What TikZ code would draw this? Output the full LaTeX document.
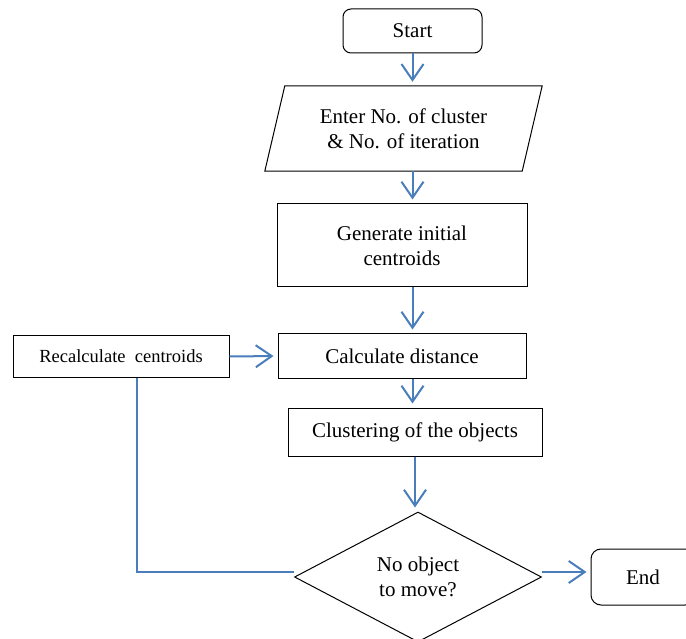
\documentclass[tikz,border=0pt]{standalone}
\usepackage{fontspec}
\setmainfont{Liberation Serif}
\usepackage{tikz}
\usepackage{xcolor}
\usetikzlibrary{shapes.geometric,arrows.meta}

\definecolor{linkblue}{HTML}{4A7EBB}

\begin{document}
\begin{tikzpicture}[x=1pt, y=-1pt,
	every node/.style={font=\fontsize{21}{25}\selectfont, align=center, inner sep=0pt},
	border/.style={draw, line width=1pt},
	box/.style={border, rectangle},
	term/.style={box, rounded corners=8pt},
	decision/.style={border, diamond},
	link/.style={draw=linkblue, line width=2pt},
	flow/.style={link, -{Straight Barb[length=16pt, width=22pt, line width=2pt]}, shorten >=4pt}]
				\useasboundingbox (0,0) rectangle (686,639);
				\clip (0,0) rectangle (686,639);
				% steps
				\node[term, minimum width=139pt, minimum height=44pt] (start) at (412.5,31) {Start};
				\node[minimum width=257pt, minimum height=85pt] (in) at (403.5,128.5) {Enter No. of cluster\\ \& No. of iteration};
				\draw[border] ([xshift=10pt]in.north west) -- ([xshift=10pt]in.north east) -- ([xshift=-10pt]in.south east) -- ([xshift=-10pt]in.south west) -- cycle;
				\node[box, minimum width=250pt, minimum height=83pt] (gen) at (402,245.5) {Generate initial\\ centroids};
				\node[box, minimum width=248pt, minimum height=44pt] (calc) at (402,356) {Calculate distance};
				\node[box, minimum width=216pt, minimum height=41pt, font=\fontsize{18.5}{22}\selectfont] (recalc) at (121,356.5) {Recalculate\ \ centroids};
				\node[box, minimum width=254pt, minimum height=48pt] (clus) at (415,432) {Clustering of the objects};
				\node[decision, minimum width=247pt, minimum height=130pt] (dec) at (418,577) {No object\\ to move?};
				\node[term, rounded corners=10pt, minimum width=104pt, minimum height=56pt] (end) at (643,577) {End};
				% connectors
				\draw[flow] (start.south) -- (start.south |- in.north);
				\draw[flow] (in.south -| start) -- (gen.north -| start);
				\draw[flow] (gen.south -| start) -- (calc.north -| start);
				\draw[flow] (calc.south -| start) -- (clus.north -| start);
				\draw[flow] (clus.south) -- (clus.south |- dec.north);
				\draw[flow] (recalc.east) -- (calc.west);
				\draw[flow] ([yshift=5pt]dec.east) -- ([yshift=5pt]end.west);
				\draw[link] ([yshift=5pt]dec.west) -| ([xshift=16pt]recalc.south);
			\end{tikzpicture}
\end{document}
